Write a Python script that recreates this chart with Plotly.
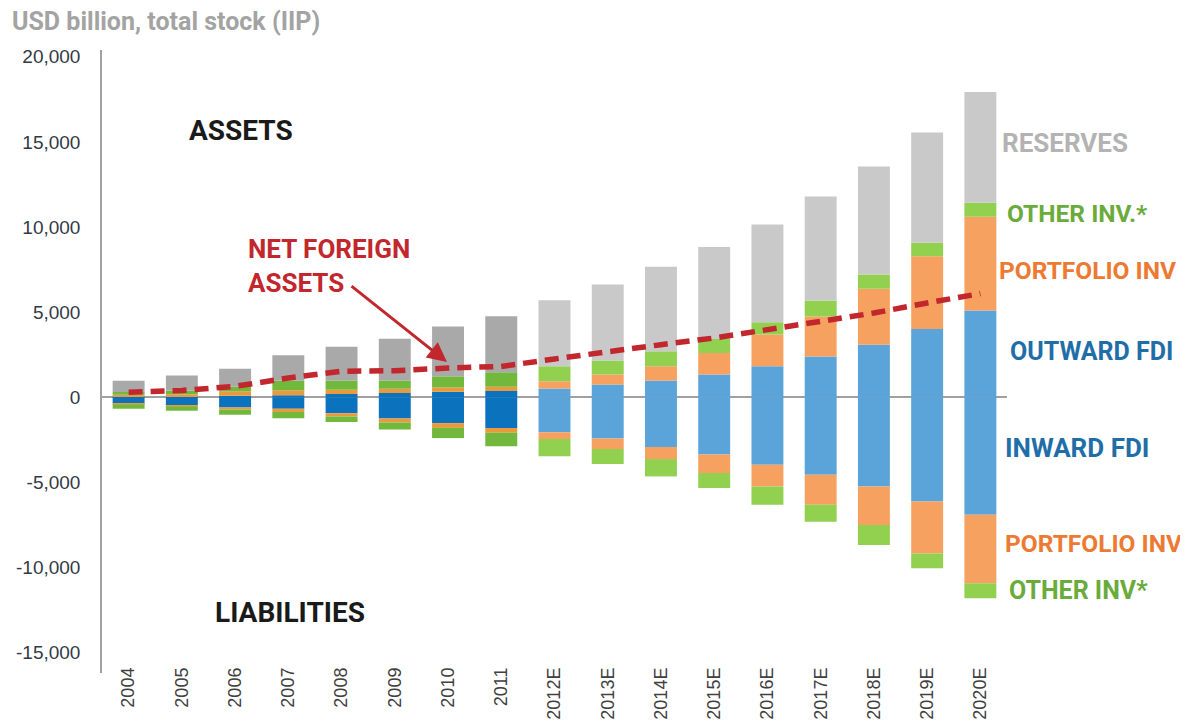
import plotly.graph_objects as go

years = ["2004", "2005", "2006", "2007", "2008", "2009", "2010", "2011",
         "2012E", "2013E", "2014E", "2015E", "2016E", "2017E", "2018E", "2019E", "2020E"]

# Assets (USD bn)
assets_fdi = [55, 65, 95, 120, 190, 250, 320, 370, 510, 745, 980, 1330, 1820, 2400, 3090, 4010, 5090]
assets_port = [90, 115, 260, 290, 250, 245, 260, 250, 430, 590, 840, 1270, 1860, 2350, 3280, 4270, 5510]
assets_other = [165, 220, 255, 560, 550, 495, 650, 850, 880, 820, 880, 820, 730, 940, 840, 790, 820]
reserves = [660, 880, 1070, 1500, 1970, 2440, 2920, 3290, 3880, 4470, 4960, 5410, 5740, 6100, 6350, 6490, 6510]

# Liabilities (USD bn)
liab_fdi = [-370, -470, -600, -680, -940, -1250, -1520, -1800, -2060, -2430, -2920, -3370, -3960, -4560, -5250, -6130, -6910]
liab_port = [-60, -80, -120, -180, -190, -230, -280, -290, -390, -610, -710, -1080, -1290, -1760, -2250, -3050, -4020]
liab_other = [-250, -250, -310, -380, -330, -420, -600, -790, -1020, -880, -1020, -880, -1070, -1000, -1180, -870, -880]

# Net foreign assets
net_assets = [300, 400, 640, 1130, 1530, 1560, 1715, 1810, 2250, 2700, 3090, 3480, 3970, 4460, 4950, 5540, 6090]

ytick_vals = [-15000, -10000, -5000, 0, 5000, 10000, 15000, 20000]
ytick_text = ["-15,000", "-10,000", "-5,000", "0", "5,000", "10,000", "15,000", "20,000"]

n_hist = 8  # actual years; the rest are estimates


def colors(hist, est):
    return [hist if i < n_hist else est for i in range(len(years))]


BLUE = colors("#0b72bd", "#5ba4da")
ORANGE = colors("#e99a3c", "#f7a160")
GREEN = colors("#72b83c", "#92d050")
GRAY = colors("#a9a9a9", "#c9c9c9")

fig = go.Figure()
series = [
    ("Outward FDI", assets_fdi, BLUE),
    ("Portfolio inv (assets)", assets_port, ORANGE),
    ("Other inv (assets)", assets_other, GREEN),
    ("Reserves", reserves, GRAY),
    ("Inward FDI", liab_fdi, BLUE),
    ("Portfolio inv (liabilities)", liab_port, ORANGE),
    ("Other inv (liabilities)", liab_other, GREEN),
]
for name, vals, col in series:
    fig.add_trace(go.Bar(x=years, y=vals, name=name,
                         marker=dict(color=col, line=dict(width=0))))

fig.add_trace(go.Scatter(x=years, y=net_assets, mode="lines", name="Net foreign assets",
                         line=dict(color="#c1272d", width=5.5, dash="14px,8px")))

OFF = 8  # page body margin
W, H = 1180, 715
L, T = 102 - OFF, 50 - OFF
R = W - (1007 - OFF)
B = H - (673 - OFF)
PW, PH = W - L - R, H - T - B
Y0, Y1 = -16200, 20400


def px_x(p):
    return (p - OFF - L) / PW


def px_y(p):
    return (H - B - (p - OFF)) / PH


RF = "Roboto"
annos = []


def label(text, xpx, ypx, color, anchor="left", size=26):
    annos.append(dict(text="<b>" + text + "</b>", xref="paper", yref="paper",
                      x=px_x(xpx), y=px_y(ypx), xanchor=anchor, yanchor="middle",
                      showarrow=False, font=dict(family=RF, size=size, color=color)))


label("USD billion, total stock (IIP)", 10, 22, "#a3a3a3", size=25)
label("ASSETS", 241, 130, "#1a1a1a", anchor="center", size=28)
label("LIABILITIES", 290, 612, "#1a1a1a", anchor="center", size=28)
annos.append(dict(text="<b>NET FOREIGN<br>ASSETS</b>", xref="paper", yref="paper",
                  x=px_x(246), y=px_y(266), xanchor="left", yanchor="middle", align="left",
                  showarrow=False, font=dict(family=RF, size=26, color="#c1272d")))
annos.append(dict(text="", xref="paper", yref="paper", x=px_x(447), y=px_y(362),
                  ax=-97, ay=-77, showarrow=True, arrowhead=2, arrowsize=1.3,
                  arrowwidth=3, arrowcolor="#c1272d"))
label("RESERVES", 1000, 143, "#b3b3b3")
label("OTHER INV.*", 1005, 213, "#6aab3c", size=24.5)
label("PORTFOLIO INV", 997, 270, "#ec7a32", size=24.5)
label("OUTWARD FDI", 1008, 352, "#1f6ea8", size=25)
label("INWARD FDI", 1003, 448, "#1f6ea8")
label("PORTFOLIO INV", 1003, 543, "#ec7a32", size=24.5)
label("OTHER INV*", 1007, 590, "#6aab3c", size=25)

fig.update_layout(
    width=W, height=H,
    margin=dict(l=L, r=R, t=T, b=B, autoexpand=False),
    barmode="relative", bargap=0.4,
    showlegend=False,
    plot_bgcolor="white", paper_bgcolor="white",
    annotations=annos,
    xaxis=dict(type="category", range=[-0.5, 16.5], tickangle=-90, showline=False,
               showgrid=False, ticks="", ticklabelstandoff=-10,
               tickfont=dict(family="Liberation Sans", size=18, color="#404040")),
    yaxis=dict(range=[Y0, Y1], tickvals=ytick_vals, ticktext=ytick_text,
               showgrid=False, ticks="", showline=True, linecolor="#a0a0a0", linewidth=1.5,
               zeroline=True, zerolinecolor="#a0a0a0", zerolinewidth=1.5,
               ticklabelstandoff=16,
               tickfont=dict(family="Liberation Sans", size=19, color="#333a44")),
)

fig.write_html("out.html")
